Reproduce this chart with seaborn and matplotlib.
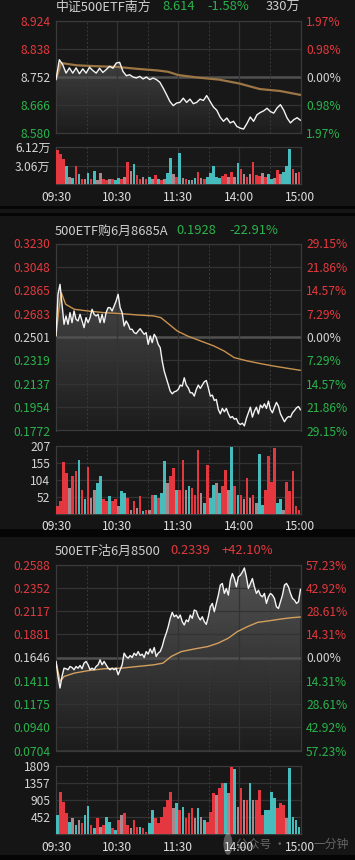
import numpy as np
import pandas as pd
import seaborn as sns
import matplotlib.pyplot as plt
from matplotlib.patches import Rectangle, Circle

# ---------------- data ----------------
time_labels = ['09:30', '10:30', '11:30', '14:00', '15:00']
time_ticks = [0, 60, 120, 180, 240]

# panel 1: 中证500ETF南方
p1_title = ['中证500ETF南方', '8.614', '-1.58%', '330万']
p1_left = ['8.924', '8.838', '8.752', '8.666', '8.580']
p1_right = ['1.97%', '0.98%', '0.00%', '0.98%', '1.97%']
p1_price = [8.744, 8.805, 8.790, 8.764, 8.780, 8.764, 8.780, 8.762, 8.777, 8.764,
            8.782, 8.772, 8.764, 8.779, 8.766, 8.775, 8.785, 8.779, 8.795, 8.797,
            8.769, 8.756, 8.759, 8.752, 8.749, 8.754, 8.746, 8.752, 8.744, 8.749,
            8.744, 8.736, 8.718, 8.698, 8.677, 8.664, 8.672, 8.674, 8.687, 8.674,
            8.684, 8.670, 8.674, 8.684, 8.680, 8.695, 8.677, 8.660, 8.650, 8.629,
            8.616, 8.626, 8.611, 8.616, 8.600, 8.595, 8.592, 8.609, 8.629, 8.616,
            8.636, 8.643, 8.648, 8.656, 8.646, 8.641, 8.657, 8.667, 8.650, 8.626,
            8.611, 8.621, 8.627, 8.619]
p1_avg_t = [0, 5, 20, 40, 60, 80, 100, 110, 120, 140, 160, 180, 200, 220, 240]
p1_avg = [8.744, 8.795, 8.788, 8.785, 8.783, 8.777, 8.772, 8.768, 8.758, 8.750,
          8.744, 8.732, 8.715, 8.709, 8.697]
p1_vol_labels = ['6.12万', '3.06万']
p1_vol_ticks = [6.12, 3.06]
p1_vol = [5.7, 5.0, 4.2, 2.9, 1.2, 1.0, 3.0, 1.6, 0.8, 0.9,
          1.8, 0.8, 2.2, 0.7, 1.8, 0.8, 0.7, 0.8, 0.9, 0.6,
          1.0, 0.8, 1.2, 3.7, 2.2, 3.3, 1.5, 0.9, 1.2, 0.8,
          1.2, 0.9, 1.5, 0.8, 0.7, 0.9, 1.8, 4.3, 1.6, 1.2,
          5.2, 1.0, 0.8, 0.6, 0.7, 1.0, 2.0, 1.0, 0.9, 1.2,
          1.8, 3.0, 1.2, 1.0, 1.4, 1.6, 1.2, 2.0, 1.2, 3.4,
          2.5, 1.6, 1.2, 1.6, 3.6, 1.5, 1.4, 1.8, 1.2, 1.6,
          0.9, 1.0, 2.3, 1.6, 2.0, 2.9, 5.8, 2.4, 1.8, 2.0]
p1_vol_dir = ('rrrcgcrcrg' 'crcggrrgrc' 'crgrgcrrgr' 'cgrcrgccgr'
              'cgrcgcrgrc' 'ccccrrgrgc' 'rgrgrrrgrc' 'cgrgcccrgr')

# panel 2: 500ETF购6月8685A
p2_title = ['500ETF购6月8685A', '0.1928', '-22.91%']
p2_left = ['0.3230', '0.3048', '0.2865', '0.2683', '0.2501',
           '0.2319', '0.2137', '0.1954', '0.1772']
p2_right = ['29.15%', '21.86%', '14.57%', '7.29%', '0.00%',
            '7.29%', '14.57%', '21.86%', '29.15%']
p2_price = [0.2509, 0.2834, 0.2912, 0.2756, 0.2600, 0.2665, 0.2600, 0.2691, 0.2613, 0.2704,
            0.2639, 0.2626, 0.2678, 0.2626, 0.2574, 0.2652, 0.2613, 0.2652, 0.2717, 0.2678,
            0.2665, 0.2678, 0.2613, 0.2678, 0.2613, 0.2691, 0.2730, 0.2730, 0.2704, 0.2743,
            0.2782, 0.2834, 0.2730, 0.2691, 0.2587, 0.2626, 0.2600, 0.2561, 0.2561, 0.2535,
            0.2527, 0.2548, 0.2566, 0.2543, 0.2522, 0.2535, 0.2444, 0.2509, 0.2457, 0.2522,
            0.2496, 0.2444, 0.2418, 0.2314, 0.2235, 0.2183, 0.2131, 0.2079, 0.2058, 0.2074,
            0.2079, 0.2092, 0.2126, 0.2118, 0.2183, 0.2126, 0.2105, 0.2066, 0.2066, 0.2040,
            0.2092, 0.2126, 0.2100, 0.2126, 0.2152, 0.2162, 0.2105, 0.2040, 0.2048, 0.2006,
            0.2014, 0.1936, 0.1902, 0.1944, 0.1918, 0.1944, 0.1902, 0.1871, 0.1881, 0.1860,
            0.1866, 0.1829, 0.1819, 0.1829, 0.1808, 0.1866, 0.1910, 0.1954, 0.1876, 0.1923,
            0.1954, 0.1902, 0.1970, 0.1949, 0.1980, 0.1944, 0.2001, 0.1936, 0.1910, 0.1954,
            0.1991, 0.1962, 0.1902, 0.1871, 0.1840, 0.1866, 0.1881, 0.1876, 0.1910, 0.1928,
            0.1949, 0.1959, 0.1933]
p2_avg_t = [0, 2.6, 5.2, 9.5, 18, 31, 47, 64, 80, 96, 103, 111, 119, 129, 142,
            155, 165, 175, 188, 201, 214, 228, 240]
p2_avg = [0.2509, 0.2704, 0.2847, 0.2756, 0.2717, 0.2704, 0.2691, 0.2683, 0.2673, 0.2665,
          0.2652, 0.2600, 0.2548, 0.2509, 0.2470, 0.2431, 0.2392, 0.2340, 0.2314, 0.2293,
          0.2274, 0.2256, 0.2241]
p2_vol_labels = ['207', '155', '104', '52']
p2_vol_ticks = [207, 155, 104, 52]
p2_vol = [22, 38, 159, 124, 78, 114, 129, 164, 73, 43,
          144, 48, 73, 93, 114, 43, 38, 53, 38, 45,
          22, 68, 63, 48, 12, 38, 17, 53, 7, 12,
          12, 58, 58, 48, 63, 162, 93, 114, 139, 73,
          73, 164, 73, 83, 78, 58, 195, 63, 32, 149,
          48, 88, 93, 63, 83, 134, 73, 205, 83, 58,
          58, 43, 109, 48, 58, 32, 183, 27, 73, 175,
          98, 200, 32, 43, 12, 98, 68, 129, 22, 12]
p2_vol_dir = ('rrrrgrrcrc' 'rggccrrcrr' 'gccrgrgrcr' 'grcrccgrrc'
              'rrgcrrrgcr' 'ccgcrrgcrc' 'rgrgrgccrr' 'rrccgrrrrr')

# panel 3: 500ETF沽6月8500
p3_title = ['500ETF沽6月8500', '0.2339', '+42.10%']
p3_left = ['0.2588', '0.2352', '0.2117', '0.1881', '0.1646',
           '0.1411', '0.1175', '0.0940', '0.0704']
p3_right = ['57.23%', '42.92%', '28.61%', '14.31%', '0.00%',
            '14.31%', '28.61%', '42.92%', '57.23%']
p3_price = [0.1606, 0.1454, 0.1337, 0.1454, 0.1538, 0.1532, 0.1522, 0.1555, 0.1545, 0.1522,
            0.1555, 0.1538, 0.1565, 0.1532, 0.1589, 0.1606, 0.1572, 0.1522, 0.1538, 0.1522,
            0.1555, 0.1572, 0.1622, 0.1572, 0.1606, 0.1572, 0.1538, 0.1522, 0.1538, 0.1522,
            0.1538, 0.1471, 0.1522, 0.1572, 0.1690, 0.1656, 0.1639, 0.1666, 0.1646, 0.1690,
            0.1666, 0.1706, 0.1666, 0.1680, 0.1646, 0.1706, 0.1680, 0.1733, 0.1690, 0.1747,
            0.1656, 0.1690, 0.1706, 0.1757, 0.1834, 0.1891, 0.1959, 0.2043, 0.2103, 0.2059,
            0.2076, 0.2043, 0.2076, 0.2009, 0.1975, 0.2026, 0.2009, 0.2076, 0.2043, 0.2127,
            0.2117, 0.2059, 0.2026, 0.2059, 0.2009, 0.1982, 0.2059, 0.2160, 0.2194, 0.2110,
            0.2194, 0.2278, 0.2379, 0.2396, 0.2295, 0.2345, 0.2278, 0.2429, 0.2496, 0.2446,
            0.2362, 0.2463, 0.2480, 0.2513, 0.2553, 0.2463, 0.2345, 0.2396, 0.2446, 0.2362,
            0.2295, 0.2328, 0.2278, 0.2261, 0.2295, 0.2194, 0.2261, 0.2295, 0.2278, 0.2244,
            0.2160, 0.2143, 0.2211, 0.2278, 0.2379, 0.2396, 0.2362, 0.2295, 0.2244, 0.2227,
            0.2194, 0.2211, 0.2338]
p3_avg_t = [0, 4, 8, 18, 31, 47, 64, 80, 96, 105, 113, 123, 136, 149, 159,
            169, 178, 188, 198, 208, 221, 231, 240]
p3_avg = [0.1606, 0.1404, 0.1454, 0.1488, 0.1512, 0.1532, 0.1538, 0.1555, 0.1572, 0.1589,
          0.1656, 0.1706, 0.1733, 0.1757, 0.1791, 0.1841, 0.1908, 0.1959, 0.2002, 0.2016,
          0.2036, 0.2049, 0.2056]
p3_vol_labels = ['1809', '1357', '905', '452']
p3_vol_ticks = [1809, 1357, 905, 452]
p3_vol = [505, 1126, 860, 550, 328, 417, 240, 373, 284, 505,
          745, 240, 150, 417, 195, 240, 461, 328, 150, 106,
          373, 505, 550, 240, 150, 373, 195, 195, 150, 62,
          284, 638, 417, 284, 461, 727, 905, 1126, 683, 816,
          638, 727, 417, 550, 683, 417, 683, 461, 373, 328,
          594, 1082, 1038, 1215, 1348, 1348, 1082, 1774, 1720, 727,
          1215, 905, 905, 1366, 905, 905, 1170, 505, 638, 638,
          1126, 949, 683, 816, 772, 417, 1747, 461, 373, 195]
p3_vol_dir = ('crrrcgcgrc' 'crcrgrccrc' 'rgrrgrrcrr' 'ccrrrrrrgc'
              'rcrrrgcgcr' 'rrgrrcgrcg' 'rgrcgrrrcc' 'ccrrrgcccc')

# watermark (middle characters hidden behind the 15:00 label)
watermark_a = '公众号 ·'
watermark_b = '一分钟'

# ---------------- style ----------------
BG = '#151515'
PLOT_BG = '#181818'
GRID = '#333333'
RED = '#e3393e'
GREEN = '#2bb34c'
WHITE = '#d4d4d4'
BAR = {'r': '#e5373f', 'c': '#46bcbc', 'g': '#a9878c'}

sns.set_theme(style='dark', rc={'figure.facecolor': BG, 'axes.facecolor': PLOT_BG,
                                'axes.edgecolor': '#3a3a3a', 'axes.linewidth': 0.9})
plt.rcParams['font.family'] = ['Noto Sans CJK SC', 'DejaVu Sans']

W, H = 355, 860
fig = plt.figure(figsize=(W / 100, H / 100), dpi=100)


def rect(top, bottom, left=56, right=300.5):
    return [left / W, 1 - bottom / H, (right - left) / W, (bottom - top) / H]


def band(y0, y1, color):
    fig.add_artist(Rectangle((0, 1 - y1 / H), 1, (y1 - y0) / H,
                             transform=fig.transFigure, color=color, lw=0, zorder=0))


def vgrid(ax):
    for m in (60, 120, 180):
        ax.axvline(m, color=GRID, lw=0.9, zorder=2)
    for m in (30, 90, 150, 210):
        ax.axvline(m, color='#3a3a3a', lw=0.7, ls=(0, (2, 2)), zorder=2)


def price_panel(top, bottom, price, avg_t, avg, left, right, avg_color, avg_lw):
    ticks = [float(s) for s in left]
    lo, hi = ticks[-1], ticks[0]
    mid = len(ticks) // 2
    ax = fig.add_axes(rect(top, bottom))
    t = np.linspace(0, 240, len(price))

    # gradient under the price line
    poly = ax.fill_between(t, price, lo, facecolor='none', edgecolor='none')
    grad = np.zeros((256, 1, 4))
    grad[..., :3] = 1.0
    grad[..., 3] = np.linspace(0.26, 0.02, 256)[:, None]
    im = ax.imshow(grad, extent=[0, 240, lo, hi], aspect='auto', origin='upper', zorder=1)
    im.set_clip_path(poly.get_paths()[0], transform=ax.transData)

    for i, v in enumerate(ticks):
        if i == mid:
            ax.axhline(v, color='#505050', lw=1.8, zorder=2)
        else:
            ax.axhline(v, color=GRID, lw=0.9, zorder=2)
    vgrid(ax)

    df = pd.DataFrame({'t': t, 'p': price})
    sns.lineplot(data=df, x='t', y='p', ax=ax, color='#f4f4f4', lw=1.0,
                 estimator=None, zorder=5)
    da = pd.DataFrame({'t': avg_t, 'a': avg})
    sns.lineplot(data=da, x='t', y='a', ax=ax, color=avg_color, lw=avg_lw,
                 estimator=None, zorder=4)

    ax.set_xlim(0, 240)
    ax.set_ylim(lo, hi)
    ax.set_xlabel('')
    ax.set_ylabel('')
    ax.set_xticks([])
    ax.set_yticks(ticks)
    ax.set_yticklabels(left)
    ax.tick_params(axis='y', length=0, pad=4, labelsize=8.7)
    cols = [RED] * mid + [WHITE] + [GREEN] * mid
    for lab, c in zip(ax.get_yticklabels(), cols):
        lab.set_color(c)

    ax2 = ax.twinx()
    ax2.set_ylim(lo, hi)
    ax2.set_yticks(ticks)
    ax2.set_yticklabels(right)
    ax2.tick_params(axis='y', length=0, pad=4, labelsize=8.7)
    for lab, c in zip(ax2.get_yticklabels(), cols):
        lab.set_color(c)
    ax2.grid(False)
    for s in ax2.spines.values():
        s.set_visible(False)
    return ax


def volume_panel(top, bottom, vol, vdir, vticks, vlabels):
    ax = fig.add_axes(rect(top, bottom))
    x = np.arange(len(vol)) * 3 + 1.5
    for v in vticks[1:]:
        ax.axhline(v, color=GRID, lw=0.9, zorder=1)
    vgrid(ax)
    ax.bar(x, vol, width=2.6, color=[BAR[d] for d in vdir], linewidth=0, zorder=3)
    ax.set_xlim(0, 240)
    ax.set_ylim(0, vticks[0])
    ax.set_yticks(vticks)
    ax.set_yticklabels(vlabels)
    ax.tick_params(axis='y', length=0, pad=4, labelsize=8.7, colors=WHITE)
    ax.set_xticks(time_ticks)
    ax.set_xticklabels(time_labels)
    ax.tick_params(axis='x', length=0, pad=5, labelsize=8.7, colors='#dedede')
    ax.grid(False)
    return ax


def title(y, parts, xs, colors, last_right=False):
    for i, (s, x, c) in enumerate(zip(parts, xs, colors)):
        ha = 'right' if (last_right and i == len(parts) - 1) else 'left'
        fig.text(x / W, 1 - y / H, s, color=c, fontsize=9.3, ha=ha, va='center')


# panel 1
price_panel(21, 133, p1_price, p1_avg_t, p1_avg, p1_left, p1_right, '#9c7644', 1.6)
volume_panel(147, 184, p1_vol, p1_vol_dir, p1_vol_ticks, p1_vol_labels)
title(7, p1_title, [56, 162, 207, 300], ['#cfcfcf', GREEN, GREEN, '#cfcfcf'], last_right=True)

band(206.5, 208.5, '#050505')
band(213, 215.5, '#050505')

# panel 2
price_panel(243.5, 430.5, p2_price, p2_avg_t, p2_avg, p2_left, p2_right, '#c9934f', 1.0)
volume_panel(446, 513.5, p2_vol, p2_vol_dir, p2_vol_ticks, p2_vol_labels)
title(231, p2_title, [55, 176.5, 229], ['#cfcfcf', GREEN, GREEN])

band(529, 536.5, '#050505')

# panel 3
price_panel(564.5, 750.5, p3_price, p3_avg_t, p3_avg, p3_left, p3_right, '#d2a05e', 1.0)
volume_panel(766, 834, p3_vol, p3_vol_dir, p3_vol_ticks, p3_vol_labels)
title(551, p3_title, [55, 170.5, 221.5], ['#cfcfcf', RED, RED])

band(855, 860, '#050505')

# faint watermark as in the screenshot
fig.add_artist(Circle((228 / W, 1 - 844 / H), 4.5 / W, transform=fig.transFigure,
                      color=(1, 1, 1, 0.3), lw=0, zorder=10))
fig.text(236 / W, 1 - 844 / H, watermark_a, color=(1, 1, 1, 0.35), fontsize=8.5,
         ha='left', va='center', zorder=10)
fig.text(313 / W, 1 - 844 / H, watermark_b, color=(1, 1, 1, 0.35), fontsize=8.5,
         ha='left', va='center', zorder=10)

fig.savefig('out.png', dpi=100, facecolor=BG)
